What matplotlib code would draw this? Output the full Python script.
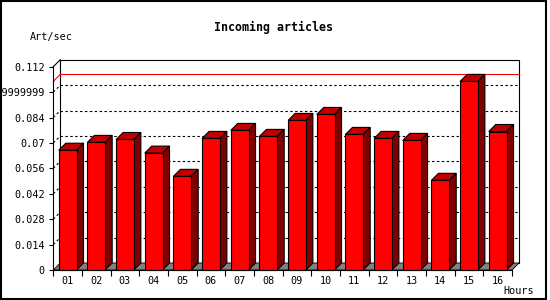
"""
Incoming articles per hour, drawn as old-style 3D bars.
"""

import matplotlib
matplotlib.use("Agg")
import matplotlib.pyplot as plt
from matplotlib.patches import Polygon, Rectangle

# ── Data ──────────────────────────────────────────────────────────────────────
hours  = ["01", "02", "03", "04", "05", "06", "07", "08",
          "09", "10", "11", "12", "13", "14", "15", "16"]
values = [0.0660, 0.0703, 0.0719, 0.0644, 0.0516, 0.0725, 0.0769, 0.0736,
          0.0824, 0.0857, 0.0747, 0.0725, 0.0714, 0.0494, 0.1039, 0.0763]
y_ticks  = [0, 0.014, 0.028, 0.042, 0.056, 0.07, 0.084, 0.098, 0.112]
y_labels = ["0", "0.014", "0.028", "0.042", "0.056", "0.07", "0.084",
            "0.09799999999999999", "0.112"]

TITLE  = "Incoming articles"
Y_NAME = "Art/sec"
X_NAME = "Hours"

# ── Layout (pixels, 550x300 canvas) ──────────────────────────────────────────
W_PX, H_PX = 550, 300
LEFT, RIGHT, TOP, BOTTOM = 53.3, 512.0, 66.7, 270.0   # front plot area
DEPTH = 7.0                                            # 3D offset in px
LW = 0.8

FONT = "DejaVu Sans Mono"
RED, TOP_RED, SIDE_RED, FLOOR = "#ff0000", "#c00000", "#800000", "#808080"

fig = plt.figure(figsize=(W_PX / 100, H_PX / 100), dpi=100)
ax = fig.add_axes([LEFT / W_PX, 1 - BOTTOM / H_PX,
                   (RIGHT - LEFT) / W_PX, (BOTTOM - TOP) / H_PX])

n     = len(hours)
y_max = y_ticks[-1]
ax.set_xlim(0, n)
ax.set_ylim(0, y_max)

# depth offset converted to data units
dx = DEPTH / ((RIGHT - LEFT) / n)
dy = DEPTH / ((BOTTOM - TOP) / y_max)

# ── Back plane, left wall, floor ─────────────────────────────────────────────
ax.add_patch(Rectangle((dx, dy), n, y_max, facecolor="white", edgecolor="black",
                       lw=LW, zorder=1, clip_on=False))
ax.plot([0, dx], [y_max, y_max + dy], color="black", lw=LW, zorder=1, clip_on=False)

dots = (0, (2.2, 2.2))
for v in y_ticks[1:-1]:
    ax.plot([dx, n + dx], [v + dy, v + dy], color="black", lw=LW,
            linestyle=dots, zorder=2, clip_on=False)
    ax.plot([0, dx], [v, v + dy], color="black", lw=LW,
            linestyle=dots, zorder=2, clip_on=False)

# max line
v_top = max(values)
ax.plot([dx, n + dx], [v_top + dy, v_top + dy], color=RED, lw=LW,
        zorder=2.5, clip_on=False)
ax.plot([0, dx], [v_top, v_top + dy], color=RED, lw=LW, zorder=2.5, clip_on=False)

ax.add_patch(Polygon([(0, 0), (n, 0), (n + dx, dy), (dx, dy)], closed=True,
                     facecolor=FLOOR, edgecolor="black", lw=0.6,
                     zorder=3, clip_on=False))

# ── Bars ─────────────────────────────────────────────────────────────────────
bw = 0.62
centers = [i + 0.5 for i in range(n)]
ax.bar(centers, values, width=bw, color=RED, edgecolor="black", lw=LW,
       zorder=5, clip_on=False)
for c, v in zip(centers, values):
    x0, x1 = c - bw / 2, c + bw / 2
    ax.add_patch(Polygon([(x0, v), (x1, v), (x1 + dx, v + dy), (x0 + dx, v + dy)],
                         closed=True, facecolor=TOP_RED, edgecolor="black",
                         lw=LW, zorder=4, clip_on=False))
    ax.add_patch(Polygon([(x1, 0), (x1, v), (x1 + dx, v + dy), (x1 + dx, dy)],
                         closed=True, facecolor=SIDE_RED, edgecolor="black",
                         lw=LW, zorder=4, clip_on=False))

# ── Axes, ticks ──────────────────────────────────────────────────────────────
for side in ("top", "right"):
    ax.spines[side].set_visible(False)
for side in ("left", "bottom"):
    ax.spines[side].set_linewidth(LW)
    ax.spines[side].set_zorder(6)
ax.patch.set_alpha(0)

ax.set_yticks(y_ticks, y_labels)
ax.set_xticks(range(n + 1), [""] * (n + 1))
ax.set_xticks(centers, hours, minor=True)
ax.tick_params(axis="y", length=3, width=LW, pad=3, labelsize=7.3)
ax.tick_params(axis="x", which="major", length=4, width=LW)
ax.tick_params(axis="x", which="minor", length=0, pad=4, labelsize=7.3)
for lbl in ax.get_xticklabels(minor=True) + ax.get_yticklabels():
    lbl.set_family(FONT)

# ── Texts ────────────────────────────────────────────────────────────────────
fig.text(273.5 / W_PX, 1 - 27 / H_PX, TITLE, family=FONT, weight="bold",
         fontsize=8.4, ha="center", va="center")
fig.text(30 / W_PX, 1 - 37 / H_PX, Y_NAME, family=FONT, fontsize=7.3,
         ha="left", va="center")
fig.text(534 / W_PX, 1 - 291.5 / H_PX, X_NAME, family=FONT, fontsize=7.3,
         ha="right", va="center")

# outer frame
fig.patches.append(Rectangle((1 / W_PX, 1 / H_PX), 545 / W_PX, 298 / H_PX,
                             transform=fig.transFigure, fill=False,
                             edgecolor="black", lw=1.5))

fig.savefig("out.png", dpi=100)
